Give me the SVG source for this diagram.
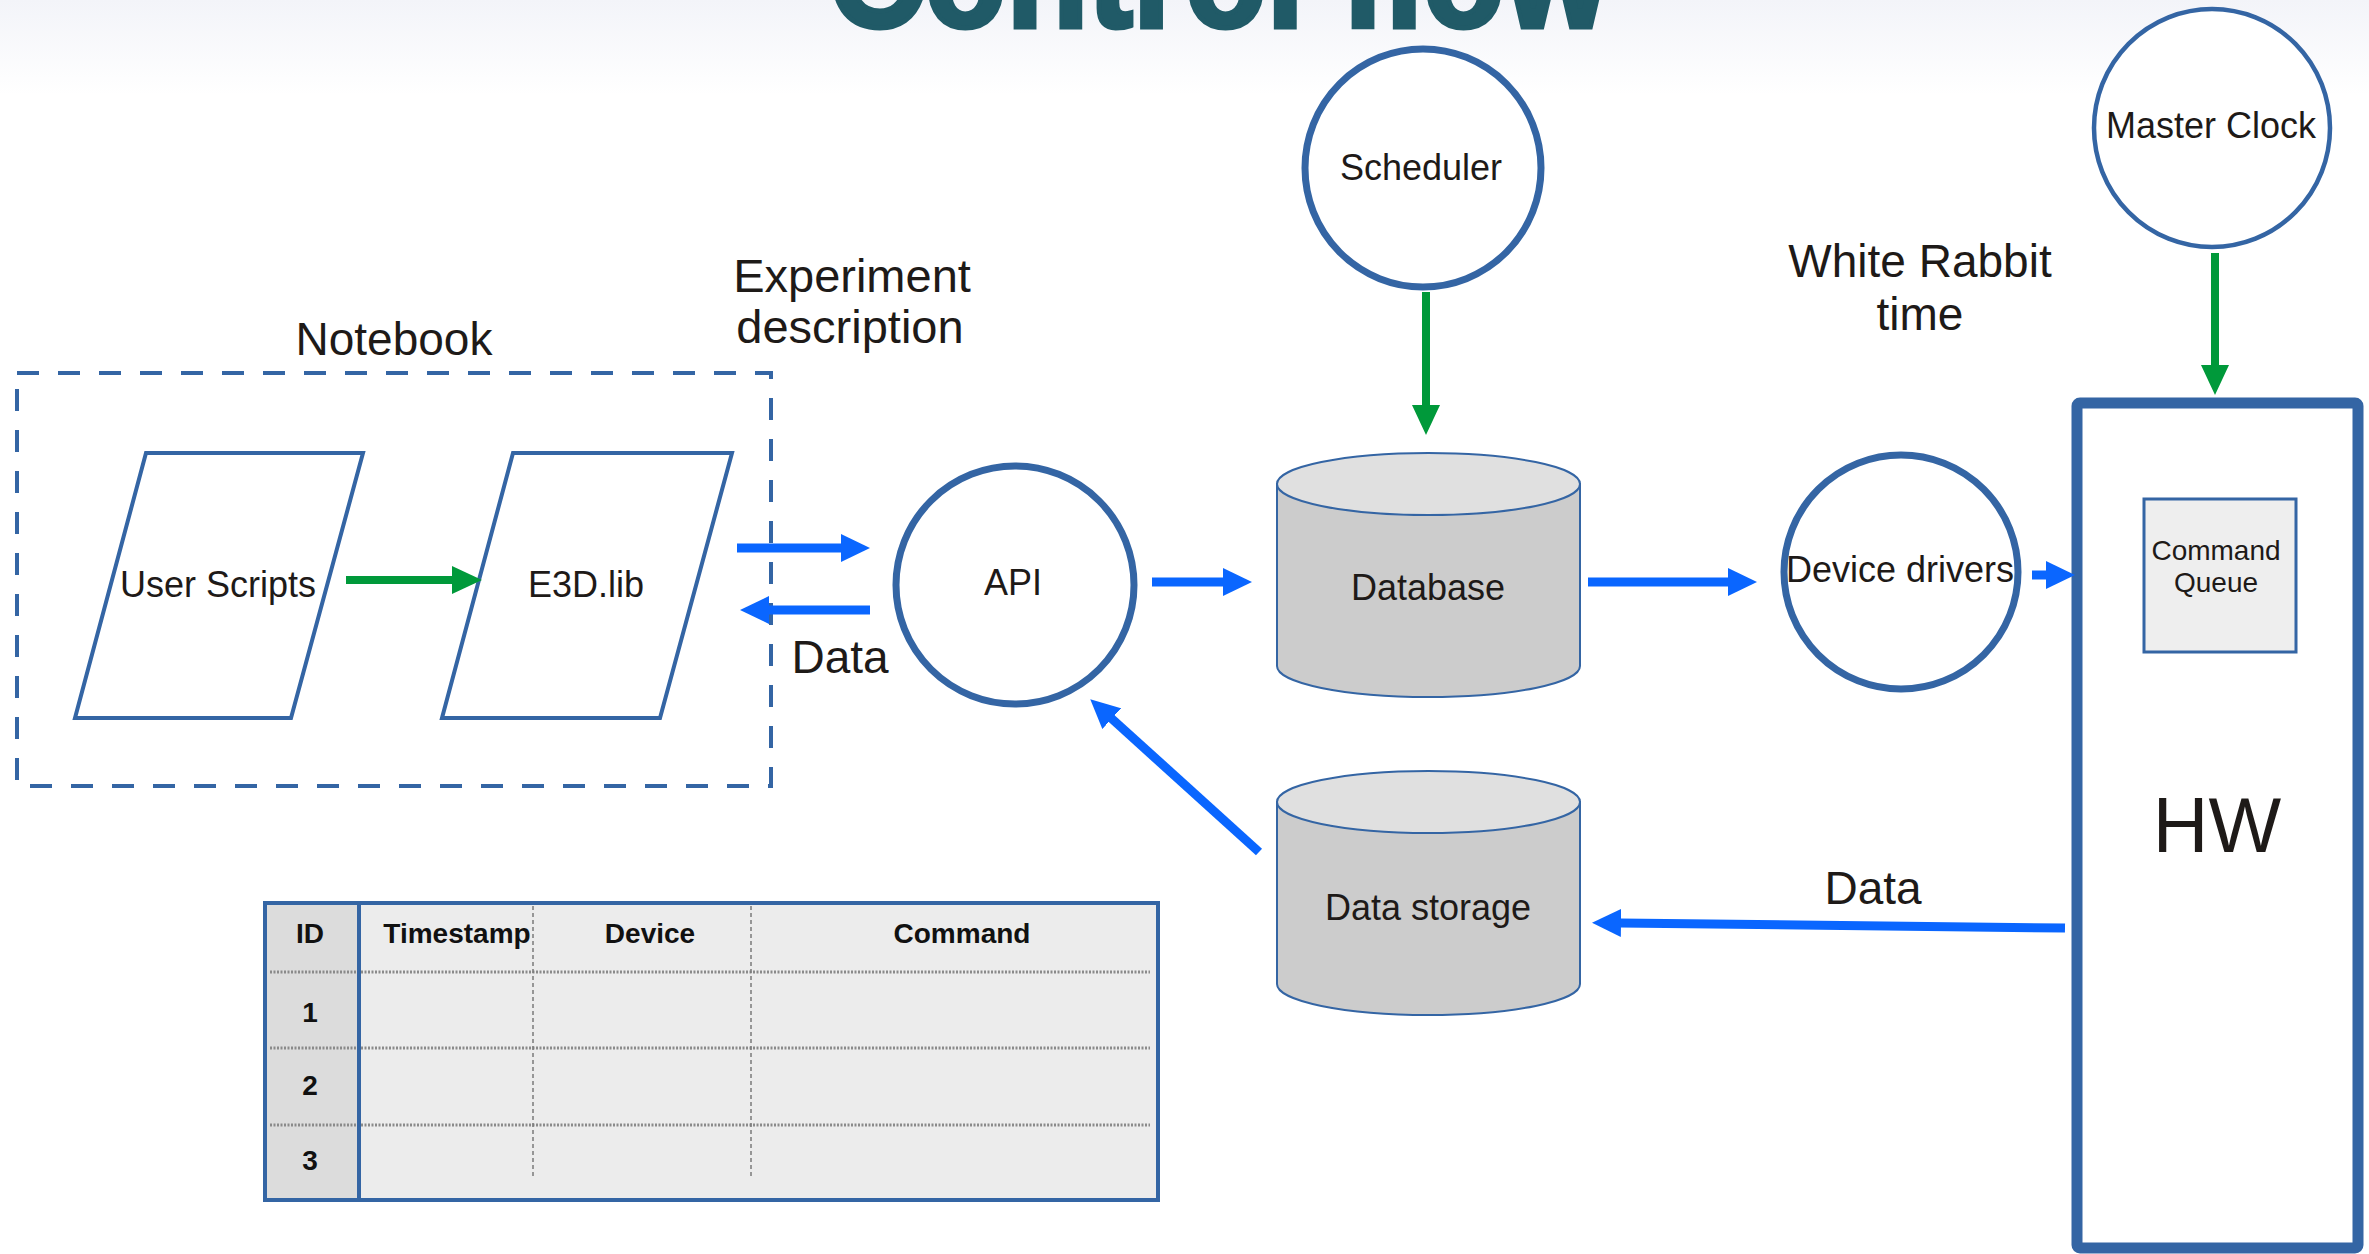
<svg xmlns="http://www.w3.org/2000/svg" width="2369" height="1254" viewBox="0 0 2369 1254">
  <defs>
    <linearGradient id="bgTop" x1="0" y1="0" x2="0" y2="1">
      <stop offset="0" stop-color="#f3f4f9"/>
      <stop offset="1" stop-color="#ffffff"/>
    </linearGradient>
    <marker id="headBlue" viewBox="0 0 29 28" refX="1" refY="14" markerWidth="29" markerHeight="28" markerUnits="userSpaceOnUse" orient="auto">
      <path d="M0,0 L29,14 L0,28 Z" fill="#0a66ff"/>
    </marker>
    <marker id="headGreen" viewBox="0 0 30 28" refX="1" refY="14" markerWidth="30" markerHeight="28" markerUnits="userSpaceOnUse" orient="auto">
      <path d="M0,0 L30,14 L0,28 Z" fill="#00993a"/>
    </marker>
  </defs>
  <style>
    .lbl { font-family: "Liberation Sans", Arial, sans-serif; fill: #1e1a18; text-anchor: middle; }
    .big { font-size: 46px; }
    .mid { font-size: 36px; }
    .shape { fill: #ffffff; stroke: #3465a4; }
    .circ { fill: #ffffff; stroke: #3465a4; stroke-width: 7; }
    .cylBody { fill: #cccccc; stroke: #3465a4; stroke-width: 2; }
    .cylTop { fill: #e0e0e0; stroke: #3465a4; stroke-width: 2; }
    .tbl { font-family: "Liberation Sans", Arial, sans-serif; font-weight: bold; font-size: 28px; fill: #111111; text-anchor: middle; }
    .blue { stroke: #0a66ff; stroke-width: 9; fill: none; marker-end: url(#headBlue); }
    .green { stroke: #00993a; stroke-width: 8; fill: none; marker-end: url(#headGreen); }
  </style>

  <!-- page background -->
  <rect x="0" y="0" width="2369" height="1254" fill="#ffffff"/>
  <rect x="0" y="0" width="2369" height="95" fill="url(#bgTop)"/>

  <!-- heading, running off the top edge -->
  <text x="828" y="27" textLength="781" lengthAdjust="spacingAndGlyphs" font-family="Liberation Sans, Arial, sans-serif" font-weight="bold" font-size="150" fill="#205a67" stroke="#205a67" stroke-width="5">Control flow</text>

  <!-- Notebook container -->
  <g id="notebook">
    <rect x="17" y="373" width="754" height="413" fill="none" stroke="#3465a4" stroke-width="4" stroke-dasharray="22 19"/>
    <text class="lbl big" x="394" y="355">Notebook</text>
  </g>

  <g id="user-scripts">
    <polygon class="shape" stroke-width="4" points="146,453 363,453 291,718 75,718"/>
    <text class="lbl mid" x="218" y="597">User Scripts</text>
  </g>

  <g id="e3d-lib">
    <polygon class="shape" stroke-width="4" points="513,453 732,453 660,718 442,718"/>
    <text class="lbl mid" x="586" y="597">E3D.lib</text>
  </g>

  <g id="api">
    <ellipse class="circ" cx="1015" cy="585" rx="119" ry="119"/>
    <text class="lbl mid" x="1013" y="595">API</text>
  </g>

  <g id="scheduler">
    <ellipse class="circ" cx="1423" cy="168" rx="118" ry="119"/>
    <text class="lbl mid" x="1421" y="180">Scheduler</text>
  </g>

  <g id="database">
    <path class="cylBody" d="M1277,484 L1277,666 A151.5,31 0 0 0 1580,666 L1580,484 Z"/>
    <ellipse class="cylTop" cx="1428.5" cy="484" rx="151.5" ry="31"/>
    <text class="lbl mid" x="1428" y="600" fill="#111">Database</text>
  </g>

  <g id="data-storage">
    <path class="cylBody" d="M1277,802 L1277,984 A151.5,31 0 0 0 1580,984 L1580,802 Z"/>
    <ellipse class="cylTop" cx="1428.5" cy="802" rx="151.5" ry="31"/>
    <text class="lbl mid" x="1428" y="920">Data storage</text>
  </g>

  <g id="device-drivers">
    <ellipse class="circ" cx="1901" cy="572" rx="117" ry="117"/>
    <text class="lbl mid" x="1900" y="582">Device drivers</text>
  </g>

  <g id="master-clock">
    <ellipse class="shape" stroke-width="4.5" cx="2212" cy="128" rx="118" ry="119"/>
    <text class="lbl mid" x="2211" y="138">Master Clock</text>
  </g>

  <g id="hw">
    <rect x="2077" y="403" width="281" height="845" rx="3" fill="#ffffff" stroke="#3465a4" stroke-width="11"/>
    <text class="lbl" font-size="77" x="2217" y="852">HW</text>
  </g>

  <g id="command-queue">
    <rect x="2144" y="499" width="152" height="153" fill="#eeeeee" stroke="#3465a4" stroke-width="3"/>
    <text class="lbl" font-size="28" x="2216" y="560">Command</text>
    <text class="lbl" font-size="28" x="2216" y="592">Queue</text>
  </g>

  <!-- command table -->
  <g id="command-table">
    <rect x="265" y="903" width="893" height="297" fill="#ececec"/>
    <rect x="265" y="903" width="94" height="297" fill="#dcdcdc"/>
    <g stroke="#8a8a8a" stroke-width="3" stroke-dasharray="2 1.5">
      <line x1="270" y1="972" x2="1150" y2="972"/>
      <line x1="270" y1="1048" x2="1150" y2="1048"/>
      <line x1="270" y1="1125" x2="1150" y2="1125"/>
    </g>
    <g stroke="#7a7a7a" stroke-width="1.5" stroke-dasharray="4 3">
      <line x1="533" y1="906" x2="533" y2="1177"/>
      <line x1="751" y1="906" x2="751" y2="1177"/>
    </g>
    <line x1="359" y1="903" x2="359" y2="1200" stroke="#3465a4" stroke-width="4"/>
    <rect x="265" y="903" width="893" height="297" fill="none" stroke="#3465a4" stroke-width="4"/>
    <text class="tbl" x="310" y="943">ID</text>
    <text class="tbl" x="457" y="943">Timestamp</text>
    <text class="tbl" x="650" y="943">Device</text>
    <text class="tbl" x="962" y="943">Command</text>
    <text class="tbl" x="310" y="1022">1</text>
    <text class="tbl" x="310" y="1095">2</text>
    <text class="tbl" x="310" y="1170">3</text>
  </g>

  <!-- free labels -->
  <g id="labels">
    <text class="lbl" font-size="47" x="852" y="292">Experiment</text>
    <text class="lbl" font-size="47" x="850" y="343">description</text>
    <text class="lbl big" x="840" y="673">Data</text>
    <text class="lbl big" x="1873" y="904">Data</text>
    <text class="lbl big" x="1920" y="277">White Rabbit</text>
    <text class="lbl big" x="1920" y="330">time</text>
  </g>

  <!-- connectors -->
  <g id="connectors">
    <line class="green" x1="346" y1="580" x2="453" y2="580"/>
    <line class="blue" x1="737" y1="548" x2="842" y2="548"/>
    <line class="blue" x1="870" y1="610" x2="768" y2="610"/>
    <line class="blue" x1="1152" y1="582" x2="1224" y2="582"/>
    <line class="green" x1="1426" y1="292" x2="1426" y2="406"/>
    <line class="blue" x1="1588" y1="582" x2="1729" y2="582"/>
    <line class="blue" x1="2032" y1="575" x2="2047" y2="575"/>
    <line class="green" x1="2215" y1="253" x2="2215" y2="366"/>
    <line class="blue" x1="2065" y1="928" x2="1620" y2="923"/>
    <line class="blue" x1="1259" y1="852" x2="1111" y2="718"/>
  </g>
</svg>
